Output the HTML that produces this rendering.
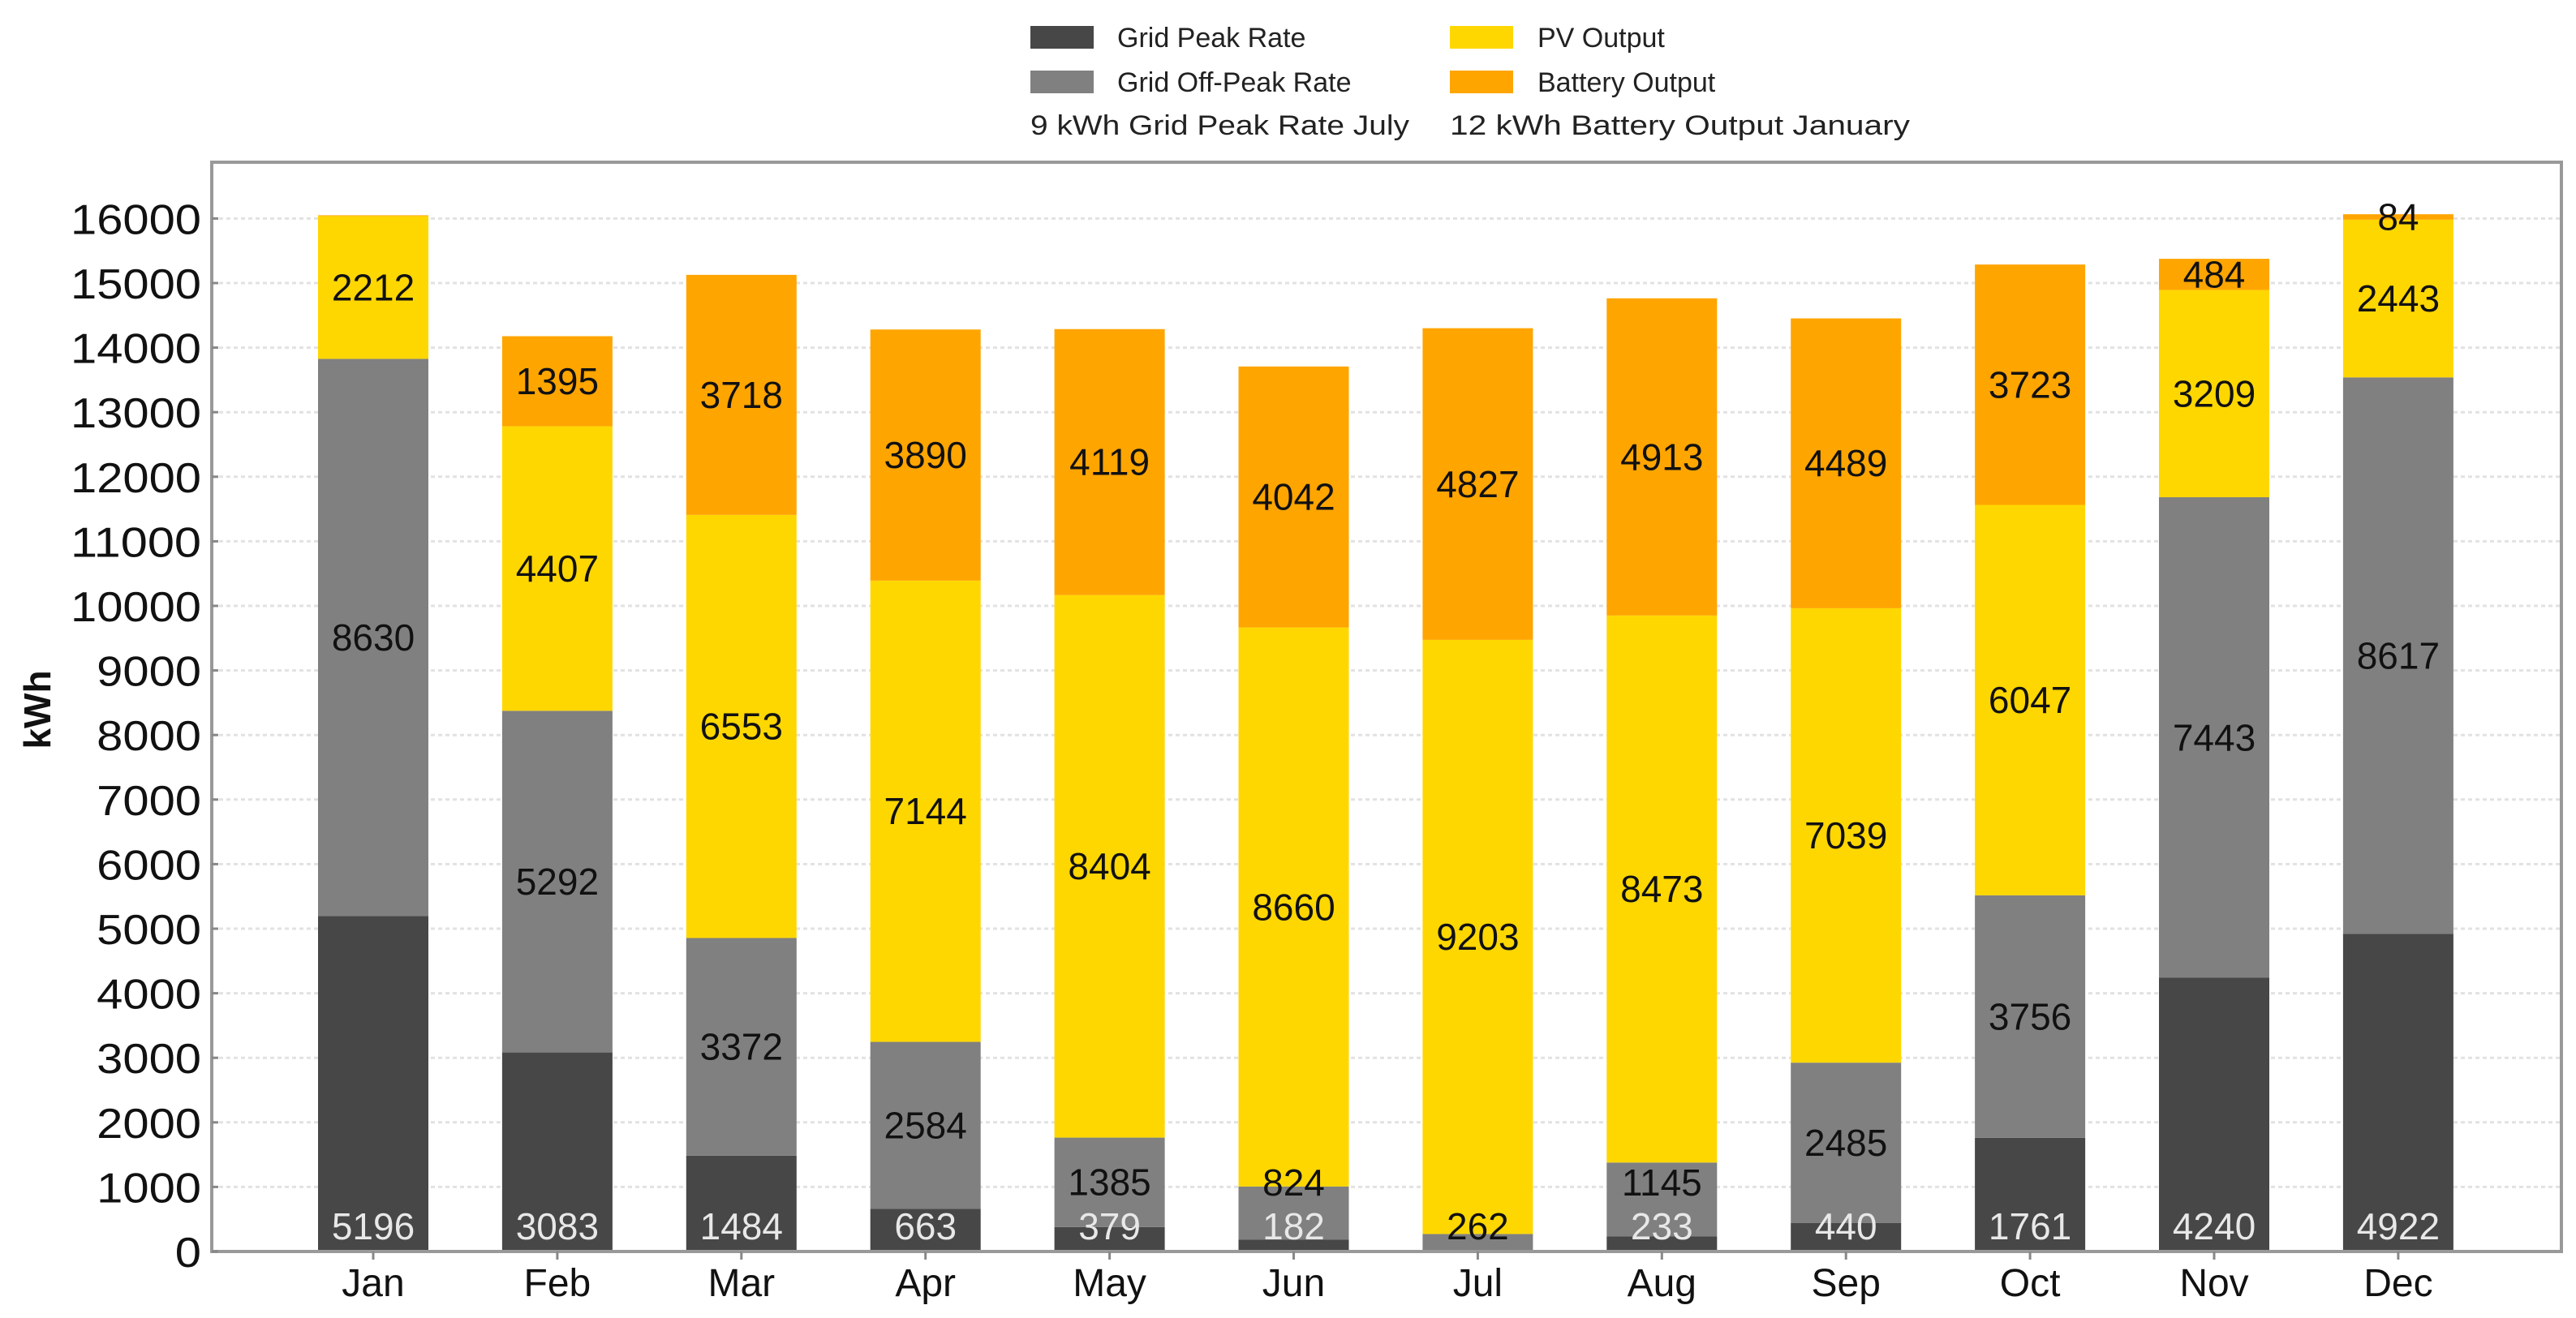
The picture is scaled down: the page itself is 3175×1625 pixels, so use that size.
<!DOCTYPE html>
<html><head><meta charset="utf-8"><style>
html,body{margin:0;padding:0;background:#fff;}
svg{display:block;font-family:"Liberation Sans",sans-serif;}
</style></head><body>
<svg id="chart" width="3175" height="1625" viewBox="0 0 3175 1625" xmlns="http://www.w3.org/2000/svg">
<g id="legend">
<rect x="1270" y="32" width="78" height="28" fill="#474747"/>
<text x="1377" y="58" font-size="34" fill="#222">Grid Peak Rate</text>
<rect x="1270" y="87" width="78" height="28" fill="#808080"/>
<text x="1377" y="113" font-size="34" fill="#222">Grid Off-Peak Rate</text>
<text x="1270" y="166" font-size="34" fill="#222" textLength="467" lengthAdjust="spacingAndGlyphs">9 kWh Grid Peak Rate July</text>
<rect x="1787" y="32" width="78" height="28" fill="#FFD700"/>
<text x="1895" y="58" font-size="34" fill="#222">PV Output</text>
<rect x="1787" y="87" width="78" height="28" fill="#FFA500"/>
<text x="1895" y="113" font-size="34" fill="#222">Battery Output</text>
<text x="1787" y="166" font-size="34" fill="#222" textLength="567" lengthAdjust="spacingAndGlyphs">12 kWh Battery Output January</text>
</g>
<g id="grid"></g>
<g id="bars"></g>
<g id="labels"></g>
<rect x="261" y="200" width="2896" height="1343" fill="none" stroke="#999" stroke-width="4"/>
<g id="axes"></g>
<text x="0" y="0" transform="translate(62,875) rotate(-90)" text-anchor="middle" font-size="46" font-weight="bold" fill="#111">kWh</text>
</svg>
<script>
const months = ["Jan","Feb","Mar","Apr","May","Jun","Jul","Aug","Sep","Oct","Nov","Dec"];
const gridPeak = [5196,3083,1484,663,379,182,9,233,440,1761,4240,4922];
const gridOffPeak = [8630,5292,3372,2584,1385,824,262,1145,2485,3756,7443,8617];
const pvOutput = [2212,4407,6553,7144,8404,8660,9203,8473,7039,6047,3209,2443];
const batteryOutput = [12,1395,3718,3890,4119,4042,4827,4913,4489,3723,484,84];
const yTicks = [0,1000,2000,3000,4000,5000,6000,7000,8000,9000,10000,11000,12000,13000,14000,15000,16000];

const NS = "http://www.w3.org/2000/svg";
const X0 = 261, X1 = 3157, Y0 = 1543;
const firstC = 460, step = 226.9, barW = 136;
const yScale = v => Y0 - v * 79.6 / 1000;
const xScale = i => firstC + i * step;
function mk(tag, attrs, parent){const e=document.createElementNS(NS,tag);for(const k in attrs)e.setAttribute(k,attrs[k]);parent.appendChild(e);return e;}
const gGrid=document.getElementById('grid'), gBars=document.getElementById('bars'), gLab=document.getElementById('labels'), gAx=document.getElementById('axes');

yTicks.forEach(t=>{
  const y=yScale(t);
  if(t>0){const l=mk('line',{x1:X0,x2:X1,y1:y,y2:y,stroke:'#e2e2e2','stroke-width':3,'stroke-dasharray':'5 4'},gGrid);
  
  }
  const tk=mk('line',{x1:X0,x2:X0+8,y1:y,y2:y,stroke:'#888','stroke-width':3},gAx);
  
  
  const tx=mk('text',{x:248,y:y+19,'text-anchor':'end','font-size':52,fill:'#111',textLength:String(t).length*32.2,lengthAdjust:'spacingAndGlyphs'},gAx);
  
  
  tx.textContent=t;
});

const series=[
  {name:'grid-peak',data:gridPeak,color:'#474747',text:'#e8e8e8'},
  {name:'grid-off-peak',data:gridOffPeak,color:'#808080',text:'#111'},
  {name:'pv-output',data:pvOutput,color:'#FFD700',text:'#111'},
  {name:'battery-output',data:batteryOutput,color:'#FFA500',text:'#111'}
];
months.forEach((m,i)=>{
  const cx=xScale(i);
  let base=0, prevLabelY=null;
  series.forEach((s,si)=>{
    const v=s.data[i];
    const yTop=yScale(base+v), yBot=yScale(base);
    const r=mk('rect',{x:cx-barW/2,y:yTop,width:barW,height:yBot-yTop,fill:s.color},gBars);
    
    
    if(v>=50){
      let ly;
      if(prevLabelY===null) ly=1512;
      else { ly=(yTop+yBot)/2; if(ly>prevLabelY-54) ly=prevLabelY-54; }
      const t=mk('text',{x:cx,y:ly+16,'text-anchor':'middle','font-size':46,fill:(prevLabelY===null&&si===0)?s.text:(ly<yTop-10?'#222':s.text)},gLab);
      
      
      t.textContent=v;
      prevLabelY=ly;
    }
    base+=v;
  });
  const tk=mk('line',{x1:cx,x2:cx,y1:Y0,y2:Y0+10,stroke:'#888','stroke-width':3},gAx);
  
  
  const tx=mk('text',{x:cx,y:1598,'text-anchor':'middle','font-size':48,fill:'#111'},gAx);
  
  
  tx.textContent=m;
});
</script>
</body></html>
